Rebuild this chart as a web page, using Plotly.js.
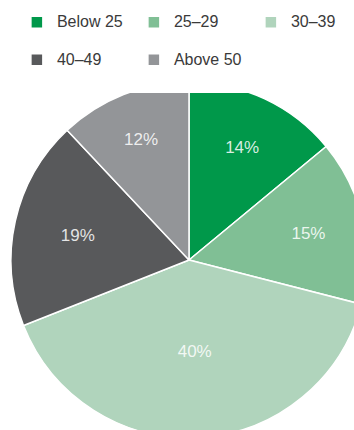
<!DOCTYPE html>
<html>
<head>
<meta charset="utf-8">
<script src="https://cdn.plot.ly/plotly-3.0.1.min.js"></script>
<style>
html, body { margin: 0; padding: 0; overflow: hidden; background: #fff; }
#chart { width: 367px; height: 438px; }
</style>
</head>
<body>
<div id="chart"></div>
<script>
var categories = ["Below 25", "25–29", "30–39", "40–49", "Above 50"];
var shares = [14, 15, 40, 19, 12];
var sliceColors = ["#00984A", "#80BF95", "#B0D4BC", "#58595B", "#939598"];

// legend rows in the reference are spaced wider than a single text line,
// so each label gets an empty second line (symbol aligned to first line)
var legendLabels = categories.map(function (c) {
  return "<span style='font-size:16px'>" + c + "</span><br> ";
});

var trace = {
  type: "pie",
  labels: legendLabels,
  values: shares,
  sort: false,
  direction: "clockwise",
  rotation: 0,
  marker: { colors: sliceColors, line: { color: "#ffffff", width: 1.5 } },
  texttemplate: "%{value}%",
  textposition: "inside",
  insidetextorientation: "horizontal",
  insidetextfont: { family: "Liberation Sans, Arial, sans-serif", size: 17, color: "rgba(255,255,255,0.85)" },
  hoverinfo: "none",
  domain: { x: [0, 1], y: [0, 1] }
};

var layout = {
  width: 367,
  height: 438,
  margin: { l: 11, r: 0, t: 82, b: 0, autoexpand: false },
  paper_bgcolor: "#ffffff",
  showlegend: true,
  legend: {
    orientation: "h",
    xref: "container", yref: "container",
    x: 0.046, y: 0.984,
    xanchor: "left", yanchor: "top",
    valign: "top",
    entrywidth: 72, entrywidthmode: "pixels",
    traceorder: "normal",
    font: { family: "Liberation Sans, Arial, sans-serif", size: 13.3, color: "#3a3a3a" }
  }
};

Plotly.newPlot("chart", [trace], layout, { displayModeBar: false, staticPlot: true });
</script>
</body>
</html>
